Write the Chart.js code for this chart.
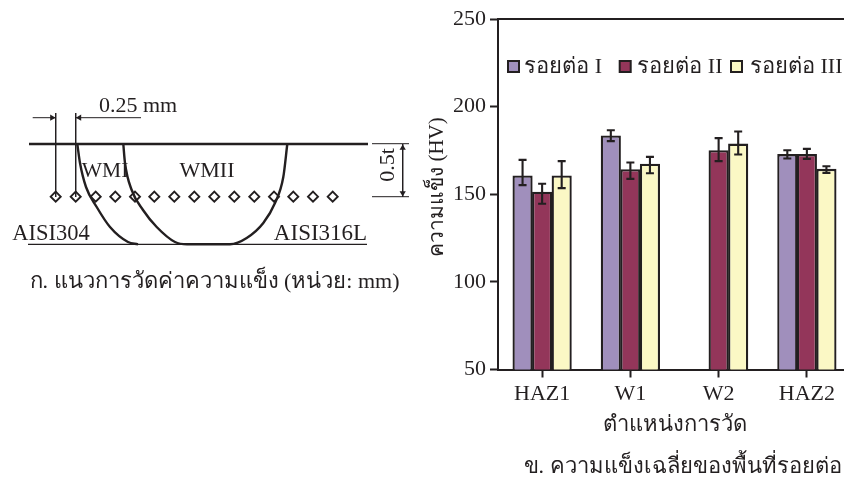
<!DOCTYPE html>
<html>
<head>
<meta charset="utf-8">
<script src="https://cdn.jsdelivr.net/npm/chart.js@4"></script>
<style>
html, body { margin: 0; padding: 0; width: 844px; height: 480px; overflow: hidden; background: #fff; }
canvas { position: absolute; top: 0; }
#diagram { left: 0; }
#hardness { left: 420px; }
</style>
</head>
<body>
<canvas id="diagram" width="420" height="300"></canvas>
<canvas id="hardness" width="431" height="480"></canvas>
<script>
const serif = '"Liberation Serif", "Noto Sans", serif';
const ink = '#231f20';

// hardness chart values
const categories = ['HAZ1', 'W1', 'W2', 'HAZ2'];
const seriesNames = ['รอยต่อ I', 'รอยต่อ II', 'รอยต่อ III'];
const seriesColors = ['#a08fbc', '#93365a', '#fbf8c5'];
const joint1 = [160.7, 183.5, null, 172.9];
const joint2 = [151.4, 164.3, 175.1, 172.9];
const joint3 = [160.7, 167.4, 178.9, 164.5];
const joint1Hi = [169.6, 186.5, null, 175.1];
const joint2Hi = [156.0, 168.1, 182.0, 175.9];
const joint3Hi = [168.9, 171.3, 185.8, 166.0];
const joint1Lo = [155.2, 180.3, null, 170.4];
const joint2Lo = [144.6, 158.8, 168.9, 170.2];
const joint3Lo = [153.5, 162.0, 172.7, 162.2];
const yTicks = [50, 100, 150, 200, 250];

// diagram geometry in its own pixels
const topSurface = [{x: 29, y: 144}, {x: 368, y: 144}];
const bottomSurface = [{x: 28, y: 244.3}, {x: 367, y: 244.3}];
const weldOne = [{x: 77.3, y: 144}, {x: 80, y: 163}, {x: 86, y: 187}, {x: 96.7, y: 207}, {x: 110, y: 227}, {x: 128, y: 242}, {x: 138, y: 244.3}];
const weldTwo = [{x: 123.3, y: 144}, {x: 125, y: 163}, {x: 131.7, y: 190}, {x: 143, y: 210}, {x: 156.7, y: 227}, {x: 175, y: 242}, {x: 187, y: 244.3}, {x: 230, y: 244.3}, {x: 246.7, y: 238}, {x: 263.3, y: 223}, {x: 275, y: 203}, {x: 283.3, y: 177}, {x: 287.3, y: 144}];
const indentX = [55.7, 75.7, 95.7, 115.3, 135, 154.3, 174.3, 194.3, 214.3, 234.3, 254.3, 274, 293.3, 313, 332.7];
const indentY = 196.7;
const dimLines = [
  [{x: 55.7, y: 113}, {x: 55.7, y: 197}],
  [{x: 75.7, y: 113}, {x: 75.7, y: 197}],
  [{x: 32.7, y: 117.7}, {x: 55.7, y: 117.7}],
  [{x: 75.7, y: 117.7}, {x: 141, y: 117.7}],
  [{x: 372, y: 143.7}, {x: 409, y: 143.7}],
  [{x: 372, y: 196.7}, {x: 409, y: 196.7}],
  [{x: 402.7, y: 144}, {x: 402.7, y: 197}]
];
const arrowPoints = [{x: 52, y: 117.7}, {x: 79.4, y: 117.7}, {x: 402.7, y: 148}, {x: 402.7, y: 193}];
const arrowTurns = [90, -90, 0, 180];
const diagramLabels = [
  {text: '0.25 mm', x: 138, y: 106, size: 22},
  {text: 'WMI', x: 105, y: 171, size: 21.5},
  {text: 'WMII', x: 207, y: 171, size: 22},
  {text: 'AISI304', x: 51, y: 234, size: 22.5},
  {text: 'AISI316L', x: 320.5, y: 234, size: 23},
  {text: '0.5t', x: 388, y: 165, size: 22, turn: -90},
  {text: 'ก. แนวการวัดค่าความแข็ง (หน่วย: mm)', x: 214.5, y: 282, size: 22}
];
const captionText = 'ข. ความแข็งเฉลี่ยของพื้นที่รอยต่อ';
const yTitleText = 'ความแข็ง (HV)';

const lineSet = (data, width) => ({
  data, showLine: true, borderColor: ink, borderWidth: width, pointRadius: 0, fill: false
});

const diagramText = {
  id: 'diagramText',
  afterDraw(chart) {
    const {ctx, scales} = chart;
    ctx.save();
    ctx.fillStyle = ink;
    ctx.textAlign = 'center';
    ctx.textBaseline = 'middle';
    diagramLabels.forEach(l => {
      ctx.save();
      ctx.translate(scales.x.getPixelForValue(l.x), scales.y.getPixelForValue(l.y));
      if (l.turn) ctx.rotate(l.turn * Math.PI / 180);
      ctx.font = l.size + 'px ' + serif;
      ctx.fillText(l.text, 0, 0);
      ctx.restore();
    });
    ctx.restore();
  }
};

new Chart(document.getElementById('diagram'), {
  type: 'scatter',
  data: {
    datasets: [
      lineSet(topSurface, 2.6),
      lineSet(bottomSurface, 1.3),
      {...lineSet(weldOne, 2.4), cubicInterpolationMode: 'monotone'},
      {...lineSet(weldTwo, 2.4), cubicInterpolationMode: 'monotone'},
      ...dimLines.map(d => lineSet(d, 1)),
      {
        data: indentX.map(x => ({x, y: indentY})),
        pointStyle: 'rectRot', pointRadius: 5,
        pointBackgroundColor: '#fff', pointBorderColor: ink, pointBorderWidth: 1.9
      },
      {
        data: arrowPoints,
        pointStyle: 'triangle', pointRadius: 3.6, pointRotation: arrowTurns,
        pointBackgroundColor: ink, pointBorderColor: ink, pointBorderWidth: 0
      }
    ]
  },
  options: {
    responsive: false,
    animation: false,
    layout: {padding: 0, autoPadding: false},
    plugins: {legend: {display: false}, tooltip: {enabled: false}},
    scales: {
      x: {type: 'linear', min: 0, max: 420, display: false},
      y: {type: 'linear', min: 0, max: 300, reverse: true, display: false}
    }
  },
  plugins: [diagramText]
});

const lows = [joint1Lo, joint2Lo, joint3Lo];
const highs = [joint1Hi, joint2Hi, joint3Hi];

const errorBars = {
  id: 'errorBars',
  afterDatasetsDraw(chart) {
    const {ctx, scales: {y}} = chart;
    ctx.save();
    ctx.strokeStyle = ink;
    ctx.lineWidth = 2.1;
    chart.data.datasets.forEach((set, i) => {
      chart.getDatasetMeta(i).data.forEach((bar, j) => {
        if (set.data[j] == null) return;
        const top = y.getPixelForValue(highs[i][j]);
        const low = y.getPixelForValue(lows[i][j]);
        ctx.beginPath();
        ctx.moveTo(bar.x, top);
        ctx.lineTo(bar.x, low);
        ctx.moveTo(bar.x - 4, top);
        ctx.lineTo(bar.x + 4, top);
        ctx.moveTo(bar.x - 4, low);
        ctx.lineTo(bar.x + 4, low);
        ctx.stroke();
      });
    });
    ctx.restore();
  }
};

// legend gaps in the picture are uneven, so it is drawn here rather than by the built-in one
const legendLeft = [88, 199.7, 311];
const legendTextLeft = [104.3, 217.3, 330];
const sideNotes = {
  id: 'sideNotes',
  afterDraw(chart) {
    const {ctx, chartArea} = chart;
    ctx.save();
    ctx.strokeStyle = ink;
    ctx.lineWidth = 2;
    ctx.beginPath();
    ctx.moveTo(chartArea.left, chartArea.top);
    ctx.lineTo(chartArea.right, chartArea.top);
    ctx.stroke();
    ctx.font = '22px ' + serif;
    ctx.textBaseline = 'middle';
    ctx.textAlign = 'left';
    chart.data.datasets.forEach((set, i) => {
      ctx.fillStyle = set.backgroundColor;
      ctx.fillRect(legendLeft[i], 61, 11, 11);
      ctx.strokeRect(legendLeft[i], 61, 11, 11);
      ctx.fillStyle = ink;
      ctx.fillText(set.label, legendTextLeft[i], 67);
    });
    ctx.textAlign = 'center';
    ctx.fillText(captionText, 262.5, 467);
    // sits above the middle of the axis in the picture
    ctx.translate(17, 187);
    ctx.rotate(-Math.PI / 2);
    ctx.font = '21px ' + serif;
    ctx.fillText(yTitleText, 0, 0);
    ctx.restore();
  }
};

new Chart(document.getElementById('hardness'), {
  type: 'bar',
  data: {
    labels: categories,
    datasets: [joint1, joint2, joint3].map((values, i) => ({
      label: seriesNames[i],
      data: values,
      backgroundColor: seriesColors[i],
      borderColor: ink,
      borderWidth: 2.3,
      barPercentage: 1.03,
      categoryPercentage: 0.665
    }))
  },
  options: {
    responsive: false,
    animation: false,
    layout: {padding: {top: 19, left: 0, right: 0, bottom: 38}},
    plugins: {legend: {display: false}, tooltip: {enabled: false}, title: {display: false}},
    scales: {
      x: {
        grid: {drawOnChartArea: false, offset: false, tickLength: 8, tickWidth: 2, tickColor: ink},
        border: {color: ink, width: 2},
        ticks: {color: ink, padding: 4, font: {family: serif, size: 22}, maxRotation: 0},
        title: {display: true, text: 'ตำแหน่งการวัด', color: ink, padding: {top: 0}, font: {family: serif, size: 22}},
        afterFit(scale) { scale.height = 72.5; }
      },
      y: {
        min: 50,
        max: 250,
        afterBuildTicks(scale) { scale.ticks = yTicks.map(value => ({value})); },
        grid: {drawOnChartArea: false, tickLength: 8, tickWidth: 2, tickColor: ink},
        border: {color: ink, width: 2},
        ticks: {color: ink, padding: 4, font: {family: serif, size: 22}},
        afterFit(scale) { scale.width = 78; }
      }
    }
  },
  plugins: [errorBars, sideNotes]
});
</script>
</body>
</html>
